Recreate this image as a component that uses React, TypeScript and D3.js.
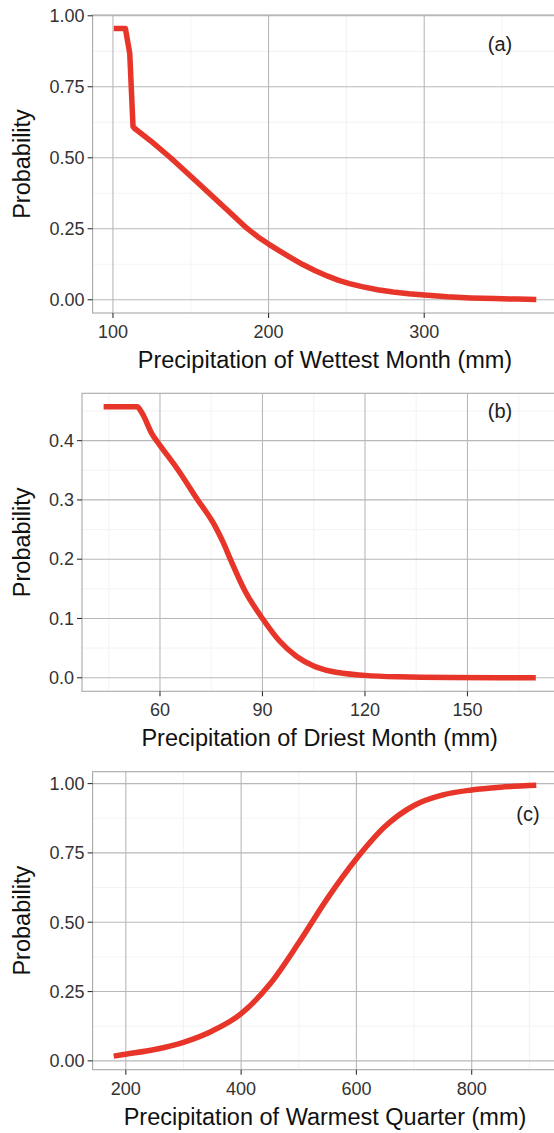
import React from "react";
import * as d3 from "d3";

// ---- Data ----
const wettestX = [100.5, 108, 110.8, 112.9, 113.8, 125, 137, 150, 162, 175, 186, 193, 200, 207, 215, 222, 230, 238, 245, 252, 260, 270, 280, 290, 300, 315, 330, 345, 360, 372];
const wettestY = [0.955, 0.955, 0.867, 0.61, 0.604, 0.556, 0.5, 0.435, 0.374, 0.308, 0.252, 0.222, 0.196, 0.172, 0.146, 0.124, 0.102, 0.083, 0.068, 0.057, 0.046, 0.035, 0.027, 0.021, 0.0165, 0.0105, 0.0065, 0.004, 0.0022, 0.001];

const driestX = [43.5, 53.3, 54.7, 57.7, 60, 65, 70.8, 76.2, 78.6, 80.6, 85, 90, 95, 100, 105, 110, 120, 130, 145, 170];
const driestY = [0.457, 0.457, 0.447, 0.411, 0.392, 0.353, 0.302, 0.255, 0.227, 0.2, 0.145, 0.1, 0.062, 0.036, 0.02, 0.011, 0.004, 0.0015, 0.0004, 0];

const warmestX = [179, 200, 250, 300, 350, 400, 450, 500, 550, 600, 650, 700, 750, 800, 850, 912];
const warmestY = [0.017, 0.024, 0.041, 0.067, 0.108, 0.17, 0.277, 0.426, 0.587, 0.729, 0.846, 0.921, 0.959, 0.977, 0.987, 0.994];

const ticksXA = [100, 200, 300];
const ticksXB = [60, 90, 120, 150];
const ticksXC = [200, 400, 600, 800];
const ticksYA = [0, 0.25, 0.5, 0.75, 1];
const ticksYB = [0, 0.1, 0.2, 0.3, 0.4];
const ticksYC = [0, 0.25, 0.5, 0.75, 1];

const titlesX = [
  "Precipitation of Wettest Month (mm)",
  "Precipitation of Driest Month (mm)",
  "Precipitation of Warmest Quarter (mm)",
];
const panelTags = ["(a)", "(b)", "(c)"];
const yTitle = "Probability";

// ---- Layout ----
const W = 554;
const H = 1133;
const FONT = "'Liberation Sans', Arial, Helvetica, sans-serif";
const RED = "#e8352a";

type PanelCfg = {
  xs: number[];
  ys: number[];
  xt: number[];
  yt: number[];
  yfmt: string;
  title: string;
  tag: string;
  top: number;
  left: number;
  tagX: number;
  tagY: number;
  curve: any;
};

const panels: PanelCfg[] = [
  { xs: wettestX, ys: wettestY, xt: ticksXA, yt: ticksYA, yfmt: ".2f", title: titlesX[0], tag: panelTags[0], top: 15, left: 92.6, tagX: 500, tagY: 51, curve: d3.curveLinear },
  { xs: driestX, ys: driestY, xt: ticksXB, yt: ticksYB, yfmt: ".1f", title: titlesX[1], tag: panelTags[1], top: 393.3, left: 82, tagX: 500, tagY: 418, curve: d3.curveMonotoneX },
  { xs: warmestX, ys: warmestY, xt: ticksXC, yt: ticksYC, yfmt: ".2f", title: titlesX[2], tag: panelTags[2], top: 771.7, left: 92.6, tagX: 528, tagY: 821, curve: d3.curveMonotoneX },
];

const PANEL_RIGHT = 557.4;
const PANEL_H = 298;

function expand(ext: [number, number]): [number, number] {
  const r = ext[1] - ext[0];
  return [ext[0] - r * 0.05, ext[1] + r * 0.05];
}

function minorTicks(major: number[], domain: [number, number]) {
  const step = major[1] - major[0];
  const out: number[] = [];
  for (let v = major[0] - step / 2; v <= domain[1]; v += step) {
    if (v >= domain[0]) out.push(v);
  }
  return out;
}

function Panel({ p }: { p: PanelCfg }) {
  const bottom = p.top + PANEL_H;
  const xd = expand(d3.extent(p.xs) as [number, number]);
  const yd = expand(d3.extent(p.ys) as [number, number]);
  const x = d3.scaleLinear().domain(xd).range([p.left, PANEL_RIGHT]);
  const y = d3.scaleLinear().domain(yd).range([bottom, p.top]);
  const fmt = d3.format(p.yfmt);
  const pts = p.xs.map((v, i) => [v, p.ys[i]] as [number, number]);
  const line = d3
    .line<[number, number]>()
    .x((d) => x(d[0]))
    .y((d) => y(d[1]))
    .curve(p.curve);
  const mx = minorTicks(p.xt, xd);
  const my = minorTicks(p.yt, yd);
  const cx = (p.left + PANEL_RIGHT) / 2;
  const cy = (p.top + bottom) / 2;
  return (
    <g>
      <rect x={p.left} y={p.top} width={PANEL_RIGHT - p.left} height={PANEL_H} fill="#ffffff" />
      {mx.map((v) => (
        <line key={"mx" + v} x1={x(v)} x2={x(v)} y1={p.top} y2={bottom} stroke="#f0f0f0" strokeWidth={0.8} />
      ))}
      {my.map((v) => (
        <line key={"my" + v} x1={p.left} x2={PANEL_RIGHT} y1={y(v)} y2={y(v)} stroke="#f0f0f0" strokeWidth={0.8} />
      ))}
      {p.xt.map((v) => (
        <line key={"gx" + v} x1={x(v)} x2={x(v)} y1={p.top} y2={bottom} stroke="#b8b8b8" strokeWidth={1.1} />
      ))}
      {p.yt.map((v) => (
        <line key={"gy" + v} x1={p.left} x2={PANEL_RIGHT} y1={y(v)} y2={y(v)} stroke="#b8b8b8" strokeWidth={1.1} />
      ))}
      <path d={line(pts) || ""} fill="none" stroke={RED} strokeWidth={5.5} strokeLinejoin="round" strokeLinecap="butt" />
      <rect x={p.left} y={p.top} width={PANEL_RIGHT - p.left} height={PANEL_H} fill="none" stroke="#a8a8a8" strokeWidth={1.1} />
      {p.yt.map((v) => (
        <g key={"ty" + v}>
          <line x1={p.left - 5} x2={p.left} y1={y(v)} y2={y(v)} stroke="#333" strokeWidth={1.1} />
          <text x={p.left - 8} y={y(v) + 6.3} textAnchor="end" fontSize={18} fill="#333" fontFamily={FONT}>
            {fmt(v)}
          </text>
        </g>
      ))}
      {p.xt.map((v) => (
        <g key={"tx" + v}>
          <line x1={x(v)} x2={x(v)} y1={bottom} y2={bottom + 5} stroke="#333" strokeWidth={1.1} />
          <text x={x(v)} y={bottom + 25} textAnchor="middle" fontSize={18} fill="#333" fontFamily={FONT}>
            {v}
          </text>
        </g>
      ))}
      <text x={cx} y={bottom + 55} textAnchor="middle" fontSize={23.5} fill="#111" fontFamily={FONT}>
        {p.title}
      </text>
      <text
        transform={`translate(${30},${cy}) rotate(-90)`}
        textAnchor="middle"
        fontSize={23.5}
        fill="#111"
        fontFamily={FONT}
      >
        {yTitle}
      </text>
      <text x={p.tagX} y={p.tagY} textAnchor="middle" fontSize={20} fill="#222" fontFamily={FONT}>
        {p.tag}
      </text>
    </g>
  );
}

export default function App() {
  return (
    <svg
      width={W}
      height={H}
      viewBox={`0 0 ${W} ${H}`}
      style={{ position: "absolute", left: 0, top: 0, background: "#fff" }}
    >
      <rect x={0} y={0} width={W} height={H} fill="#fff" />
      {panels.map((p, i) => (
        <Panel key={i} p={p} />
      ))}
    </svg>
  );
}
